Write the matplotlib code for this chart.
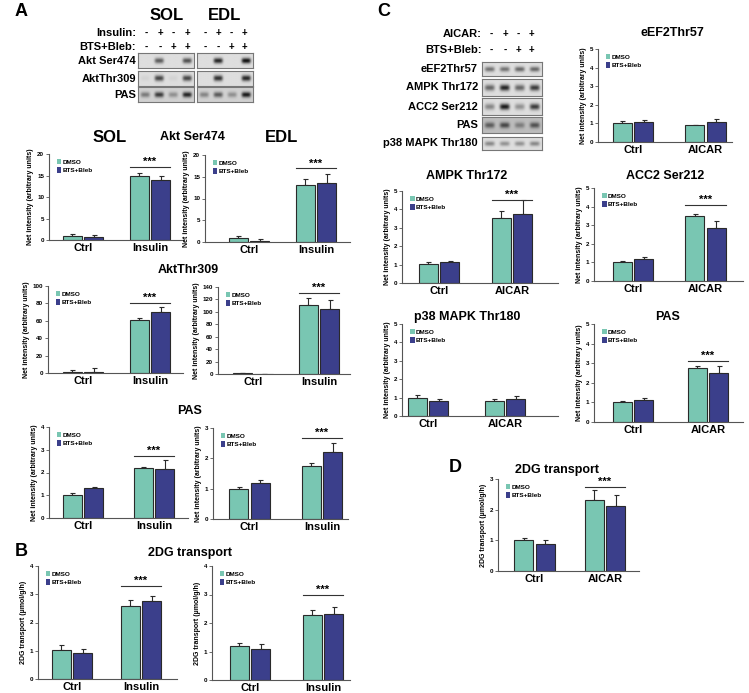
import numpy as np
import matplotlib
matplotlib.use("Agg")
import matplotlib.pyplot as plt
from matplotlib.patches import Patch

plt.rcParams["font.family"] = ["Liberation Sans", "DejaVu Sans"]
plt.rcParams["font.weight"] = "bold"

W, H = 749, 693
TEAL = "#79c6b2"
NAVY = "#3b3f8b"
EDGE = "#2a2a2a"
AXC = "#555555"

# ---------------- data ----------------
groups_ins = ["Ctrl", "Insulin"]
groups_aicar = ["Ctrl", "AICAR"]

# panel A (SOL / EDL)
sol_ser474 = [1.0, 14.8]; sol_ser474_err = [0.5, 0.7]
sol_ser474_b = [0.7, 13.9]; sol_ser474_b_err = [0.4, 1.0]
edl_ser474 = [1.0, 13.0]; edl_ser474_err = [0.4, 1.5]
edl_ser474_b = [0.3, 13.5]; edl_ser474_b_err = [0.5, 2.2]

sol_thr309 = [1.0, 61.0]; sol_thr309_err = [2.0, 2.0]
sol_thr309_b = [1.5, 70.0]; sol_thr309_b_err = [4.0, 6.0]
edl_thr309 = [1.0, 111.0]; edl_thr309_err = [0.5, 12.0]
edl_thr309_b = [0.0, 104.0]; edl_thr309_b_err = [0.0, 15.0]

sol_pas = [1.0, 2.2]; sol_pas_err = [0.1, 0.05]
sol_pas_b = [1.3, 2.17]; sol_pas_b_err = [0.06, 0.4]
edl_pas = [1.0, 1.75]; edl_pas_err = [0.07, 0.1]
edl_pas_b = [1.18, 2.22]; edl_pas_b_err = [0.12, 0.3]

# panel B
sol_2dg = [1.03, 2.57]; sol_2dg_err = [0.18, 0.22]
sol_2dg_b = [0.92, 2.75]; sol_2dg_b_err = [0.13, 0.18]
edl_2dg = [1.2, 2.27]; edl_2dg_err = [0.1, 0.2]
edl_2dg_b = [1.1, 2.3]; edl_2dg_b_err = [0.18, 0.25]

# panel C
eef2 = [1.0, 0.92]; eef2_err = [0.15, 0.02]
eef2_b = [1.1, 1.1]; eef2_b_err = [0.1, 0.12]
ampk = [1.02, 3.52]; ampk_err = [0.12, 0.42]
ampk_b = [1.15, 3.75]; ampk_b_err = [0.03, 0.75]
acc2 = [1.0, 3.5]; acc2_err = [0.1, 0.12]
acc2_b = [1.2, 2.85]; acc2_b_err = [0.08, 0.38]
p38 = [1.0, 0.83]; p38_err = [0.15, 0.1]
p38_b = [0.8, 0.9]; p38_b_err = [0.1, 0.2]
pas_c = [1.0, 2.75]; pas_c_err = [0.05, 0.12]
pas_c_b = [1.13, 2.5]; pas_c_b_err = [0.1, 0.37]

# panel D
aicar_2dg = [1.02, 2.32]; aicar_2dg_err = [0.05, 0.33]
aicar_2dg_b = [0.88, 2.12]; aicar_2dg_b_err = [0.12, 0.37]

# blot band strengths (4 lanes)
blot_sol = {"Akt Ser474": [0.0, 0.6, 0.0, 0.65],
            "AktThr309": [0.05, 0.7, 0.05, 0.7],
            "PAS": [0.4, 0.7, 0.3, 0.8]}
blot_edl = {"Akt Ser474": [0.0, 0.85, 0.0, 0.95],
            "AktThr309": [0.0, 0.8, 0.0, 0.85],
            "PAS": [0.35, 0.55, 0.3, 0.85]}
blot_c = {"eEF2Thr57": [0.5, 0.5, 0.55, 0.55],
          "AMPK Thr172": [0.55, 0.85, 0.55, 0.75],
          "ACC2 Ser212": [0.4, 0.9, 0.35, 0.75],
          "PAS": [0.45, 0.55, 0.3, 0.5],
          "p38 MAPK Thr180": [0.4, 0.35, 0.35, 0.4]}
sign_ins = ["-", "+", "-", "+"]
sign_bts = ["-", "-", "+", "+"]

fig = plt.figure(figsize=(W / 100, H / 100), dpi=100)


def px_axes(xl, xr, yt, yb):
    return fig.add_axes([xl / W, 1 - yb / H, (xr - xl) / W, (yb - yt) / H])


def ftext(x, y, s, **kw):
    fig.text(x / W, 1 - y / H, s, **kw)


def bar_chart(box, centers, ymax, step, vals, errs, vals_b, errs_b, groups,
              sig=None, ylabel="Net intensity (arbitrary units)"):
    xl, xr, yt, yb = box
    c0, c1 = centers
    s = c1 - c0
    ax = px_axes(xl, xr, yt, yb)
    x = np.arange(len(groups))
    w = 19 / s
    off = 10.7 / s
    ax.bar(x - off, vals, w, color=TEAL, edgecolor=EDGE, linewidth=0.8, zorder=2)
    ax.bar(x + off, vals_b, w, color=NAVY, edgecolor=EDGE, linewidth=0.8, zorder=2)
    ax.errorbar(x - off, vals, yerr=[[0] * len(vals), errs], fmt="none",
                ecolor=EDGE, elinewidth=0.8, capsize=1.8, capthick=0.8, zorder=1)
    ax.errorbar(x + off, vals_b, yerr=[[0] * len(vals_b), errs_b], fmt="none",
                ecolor=EDGE, elinewidth=0.8, capsize=1.8, capthick=0.8, zorder=1)
    ax.set_xlim((xl - c0) / s, (xr - c0) / s)
    ax.set_ylim(0, ymax)
    ax.set_yticks(np.arange(0, ymax + step / 2, step))
    ax.set_xticks(x)
    ax.set_xticklabels(groups, fontsize=8, fontweight="bold")
    ax.tick_params(axis="x", length=0, pad=2)
    ax.tick_params(axis="y", labelsize=4.5, length=2, width=0.6, pad=1.5, color=AXC)
    for lab in ax.get_yticklabels():
        lab.set_fontweight("bold")
    for sp in ["top", "right"]:
        ax.spines[sp].set_visible(False)
    for sp in ["left", "bottom"]:
        ax.spines[sp].set_color(AXC)
        ax.spines[sp].set_linewidth(0.8)
    ax.set_ylabel(ylabel, fontsize=5, fontweight="bold", labelpad=2)
    if sig is not None:
        ax.plot([1 - off - w / 2, 1 + off + w / 2], [sig, sig], color="#333333", lw=0.8)
        ax.text(1, sig, "***", ha="center", va="bottom", fontsize=8, fontweight="bold")
    handles = [Patch(facecolor=TEAL, edgecolor="none", label="DMSO"),
               Patch(facecolor=NAVY, edgecolor="none", label="BTS+Bleb")]
    ax.legend(handles=handles, loc="upper left", bbox_to_anchor=(0.02, 1.0),
              frameon=False, handlelength=0.7, handleheight=0.9,
              handletextpad=0.15, labelspacing=0.35, borderpad=0.3,
              prop={"size": 4.6, "weight": "bold"})
    return ax


def blot(box, strengths, bg=0.86, sy=1.8):
    xl, xr, yt, yb = box
    ax = px_axes(xl, xr, yt, yb)
    h, w = 40, 120
    yy, xx = np.mgrid[0:h, 0:w]
    img = np.full((h, w), bg)
    n = len(strengths)
    for i, st in enumerate(strengths):
        xc = (i + 0.5) * w / n
        prof = np.exp(-((xx - xc) / (w / n * 0.33)) ** 4)
        img -= st * 0.85 * prof * np.exp(-((yy - h / 2) / (h / 10 * sy)) ** 2)
    ax.imshow(img, cmap="gray", vmin=0, vmax=1, aspect="auto", interpolation="bilinear")
    ax.set_xticks([])
    ax.set_yticks([])
    for sp in ax.spines.values():
        sp.set_color("#777777")
        sp.set_linewidth(0.8)


# ---------------- panel A blots ----------------
ftext(15, 12, "A", fontsize=13, fontweight="bold", va="center", ha="left")
ftext(167, 16, "SOL", fontsize=12, fontweight="bold", ha="center", va="center")
ftext(225, 16, "EDL", fontsize=12, fontweight="bold", ha="center", va="center")
ftext(136, 33, "Insulin:", fontsize=8, fontweight="bold", ha="right", va="center")
ftext(136, 47, "BTS+Bleb:", fontsize=8, fontweight="bold", ha="right", va="center")
for xs in ([146, 160, 173, 187], [205, 218, 231, 244]):
    for xi, a, b in zip(xs, sign_ins, sign_bts):
        ftext(xi, 33, a, fontsize=7, fontweight="bold", ha="center", va="center")
        ftext(xi, 47, b, fontsize=7, fontweight="bold", ha="center", va="center")
rows_a = [(53, 68), (71, 86), (87, 102)]
for (name, st_sol), (_, st_edl), (yt, yb) in zip(blot_sol.items(), blot_edl.items(), rows_a):
    ftext(136, (yt + yb) / 2, name, fontsize=8, fontweight="bold", ha="right", va="center")
    bg = 0.82 if name == "PAS" else 0.87
    blot((138, 194, yt, yb), st_sol, bg=bg)
    blot((197, 253, yt, yb), st_edl, bg=bg)

# ---------------- panel A charts ----------------
ftext(110, 138, "SOL", fontsize=12, fontweight="bold", ha="center", va="center")
ftext(192, 137, "Akt Ser474", fontsize=9, fontweight="bold", ha="center", va="center")
ftext(282, 138, "EDL", fontsize=12, fontweight="bold", ha="center", va="center")
bar_chart((49, 183, 154, 240), (83, 150), 20, 5, sol_ser474, sol_ser474_err,
          sol_ser474_b, sol_ser474_b_err, groups_ins, sig=16.9)
bar_chart((205, 350, 155, 242), (249, 316), 20, 5, edl_ser474, edl_ser474_err,
          edl_ser474_b, edl_ser474_b_err, groups_ins, sig=16.9)

ftext(188, 270, "AktThr309", fontsize=9, fontweight="bold", ha="center", va="center")
bar_chart((48, 183, 286, 373), (83, 150), 100, 20, sol_thr309, sol_thr309_err,
          sol_thr309_b, sol_thr309_b_err, groups_ins, sig=81)
bar_chart((218, 350, 287, 374), (253, 319), 140, 20, edl_thr309, edl_thr309_err,
          edl_thr309_b, edl_thr309_b_err, groups_ins, sig=130)

ftext(190, 411, "PAS", fontsize=9, fontweight="bold", ha="center", va="center")
bar_chart((49, 188, 427, 518), (83, 154), 4, 1, sol_pas, sol_pas_err,
          sol_pas_b, sol_pas_b_err, groups_ins, sig=2.72)
bar_chart((213, 348, 428, 519), (249.5, 322), 3, 1, edl_pas, edl_pas_err,
          edl_pas_b, edl_pas_b_err, groups_ins, sig=2.67)

# ---------------- panel B ----------------
ftext(15, 551, "B", fontsize=13, fontweight="bold", va="center", ha="left")
ftext(190, 553, "2DG transport", fontsize=9, fontweight="bold", ha="center", va="center")
bar_chart((38, 177, 566, 679), (72, 141), 4, 1, sol_2dg, sol_2dg_err,
          sol_2dg_b, sol_2dg_b_err, groups_ins, sig=3.3, ylabel="2DG transport (µmol/g/h)")
bar_chart((212, 350, 566, 680), (250, 323), 4, 1, edl_2dg, edl_2dg_err,
          edl_2dg_b, edl_2dg_b_err, groups_ins, sig=3.0, ylabel="2DG transport (µmol/g/h)")

# ---------------- panel C blots ----------------
ftext(377, 12, "C", fontsize=13, fontweight="bold", va="center", ha="left")
ftext(482, 34, "AICAR:", fontsize=8, fontweight="bold", ha="right", va="center")
ftext(482, 50, "BTS+Bleb:", fontsize=8, fontweight="bold", ha="right", va="center")
for xi, a, b in zip([491, 505, 518, 531], sign_ins, sign_bts):
    ftext(xi, 34, a, fontsize=7, fontweight="bold", ha="center", va="center")
    ftext(xi, 50, b, fontsize=7, fontweight="bold", ha="center", va="center")
rows_c = [(62, 76), (79, 96), (98, 115), (117, 133), (137, 150)]
for (name, st), (yt, yb) in zip(blot_c.items(), rows_c):
    ftext(478, (yt + yb) / 2, name, fontsize=8, fontweight="bold", ha="right", va="center")
    bg = 0.74 if name == "PAS" else 0.87
    blot((482, 542, yt, yb), st, bg=bg)

# ---------------- panel C charts ----------------
ftext(672, 33, "eEF2Thr57", fontsize=9, fontweight="bold", ha="center", va="center")
bar_chart((598, 732, 49, 142), (633, 705.5), 5, 1, eef2, eef2_err,
          eef2_b, eef2_b_err, groups_aicar)
ftext(467, 176, "AMPK Thr172", fontsize=9, fontweight="bold", ha="center", va="center")
bar_chart((402, 558, 191, 283), (439, 512), 5, 1, ampk, ampk_err,
          ampk_b, ampk_b_err, groups_aicar, sig=4.5)
ftext(665, 176, "ACC2 Ser212", fontsize=9, fontweight="bold", ha="center", va="center")
bar_chart((594, 743, 188, 281), (633, 705.5), 5, 1, acc2, acc2_err,
          acc2_b, acc2_b_err, groups_aicar, sig=4.1)
ftext(467, 317, "p38 MAPK Thr180", fontsize=9, fontweight="bold", ha="center", va="center")
bar_chart((402, 558, 324, 416), (428, 505), 5, 1, p38, p38_err,
          p38_b, p38_b_err, groups_aicar)
ftext(668, 317, "PAS", fontsize=9, fontweight="bold", ha="center", va="center")
bar_chart((594, 743, 324, 422), (633, 708), 5, 1, pas_c, pas_c_err,
          pas_c_b, pas_c_b_err, groups_aicar, sig=3.1)

# ---------------- panel D ----------------
ftext(449, 468, "D", fontsize=13, fontweight="bold", va="center", ha="left")
ftext(557, 470, "2DG transport", fontsize=9, fontweight="bold", ha="center", va="center")
bar_chart((498, 639, 479, 571), (534.5, 605), 3, 1, aicar_2dg, aicar_2dg_err,
          aicar_2dg_b, aicar_2dg_b_err, groups_aicar, sig=2.75,
          ylabel="2DG transport (µmol/g/h)")

fig.savefig("out.png", dpi=100)
